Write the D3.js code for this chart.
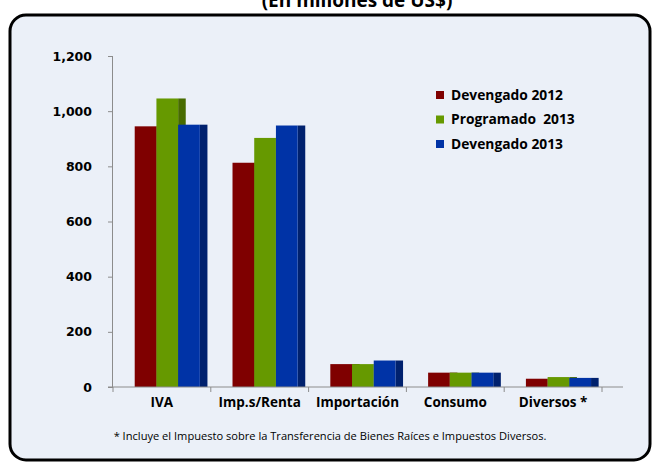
<!DOCTYPE html>
<html>
<head>
<meta charset="utf-8">
<script src="https://cdn.jsdelivr.net/npm/d3@7"></script>
<style>
  body { margin: 0; background: #fff; }
  svg { display: block; }
</style>
</head>
<body>
<svg id="chart" width="653" height="462"></svg>
<script>
// data (millones de US$)
const categories = ['IVA', 'Imp.s/Renta', 'Importación', 'Consumo', 'Diversos *'];
const seriesNames = ['Devengado 2012', 'Programado  2013', 'Devengado 2013'];
const devengado2012 = [945, 813, 83, 52, 30];
const programado2013 = [1046, 903, 83, 52, 36];
const devengado2013 = [951, 948, 96, 52, 33];
const yTicks = [0, 200, 400, 600, 800, 1000, 1200];

const series = [devengado2012, programado2013, devengado2013];
const fronts = ['#7f0000', '#669900', '#0033a6'];
const sides = ['#560000', '#476b00', '#00216e'];

const svg = d3.select('#chart');

// panel with rounded border
svg.append('rect')
    .attr('x', 10).attr('y', 15)
    .attr('width', 640).attr('height', 445)
    .attr('rx', 16).attr('ry', 16)
    .attr('fill', '#ebf0f8')
    .attr('stroke', '#000')
    .attr('stroke-width', 3);

// title, cut off by the top of the picture
svg.append('text')
    .attr('x', 357).attr('y', 7)
    .attr('text-anchor', 'middle')
    .attr('font-family', 'Open Sans, sans-serif')
    .attr('font-weight', 'bold')
    .attr('font-size', '19px')
    .text('(En millones de US$)');

const margin = {left: 113, top: 56, right: 602, bottom: 387};

const x = d3.scaleBand()
    .domain(categories)
    .range([margin.left, margin.right])
    .paddingInner(0).paddingOuter(0);

const y = d3.scaleLinear()
    .domain([0, 1200])
    .range([margin.bottom, margin.top]);

const barW = x.bandwidth() * 0.222;
const depth = barW * 0.35;

// y axis
const yAxis = svg.append('g')
    .attr('transform', `translate(${margin.left},0)`)
    .call(d3.axisLeft(y).tickValues(yTicks).tickSize(5).tickPadding(16)
        .tickFormat(d3.format(',')));
yAxis.select('.domain').attr('stroke', '#8c8c8c').attr('d', `M-0.5,${y(1200)}V${y(0)}`);
yAxis.selectAll('.tick line').attr('stroke', '#8c8c8c');
yAxis.selectAll('text')
    .attr('font-family', 'DejaVu Sans, sans-serif')
    .attr('font-weight', 'bold')
    .attr('font-size', '12.5px')
    .attr('fill', '#000');

// bars: front face plus darker right side
categories.forEach((c, i) => {
    const x0 = x(c) + x.bandwidth() * 0.222;
    series.forEach((s, j) => {
        const bx = x0 + j * barW;
        svg.append('rect')
            .attr('x', bx + barW).attr('y', y(s[i]))
            .attr('width', depth).attr('height', y(0) - y(s[i]))
            .attr('fill', sides[j]);
    });
});
categories.forEach((c, i) => {
    const x0 = x(c) + x.bandwidth() * 0.222;
    series.forEach((s, j) => {
        const bx = x0 + j * barW;
        svg.append('rect')
            .attr('x', bx).attr('y', y(s[i]))
            .attr('width', barW).attr('height', y(0) - y(s[i]))
            .attr('fill', fronts[j]);
    });
});

// x axis
const xAxis = svg.append('g')
    .attr('transform', `translate(0,${margin.bottom})`)
    .call(d3.axisBottom(x).tickSize(0).tickPadding(10));
xAxis.select('.domain').remove();
xAxis.append('line')
    .attr('x1', margin.left - 5).attr('x2', 623)
    .attr('stroke', '#8c8c8c');
xAxis.selectAll('.cat-tick')
    .data(d3.range(categories.length + 1))
    .join('line')
    .attr('class', 'cat-tick')
    .attr('x1', d => margin.left + d * x.bandwidth())
    .attr('x2', d => margin.left + d * x.bandwidth())
    .attr('y1', 0).attr('y2', 5)
    .attr('stroke', '#8c8c8c');
xAxis.selectAll('text')
    .attr('font-family', 'Open Sans, sans-serif')
    .attr('font-weight', 'bold')
    .attr('font-size', '13.5px')
    .attr('fill', '#000');

// legend
const legend = svg.append('g').attr('transform', 'translate(436,95)');
seriesNames.forEach((n, j) => {
    const g = legend.append('g').attr('transform', `translate(0,${j * 24.5})`);
    g.append('rect').attr('x', 0).attr('y', -4).attr('width', 8).attr('height', 8).attr('fill', fronts[j]);
    g.append('text')
        .attr('x', 15).attr('y', 0).attr('dy', '0.35em')
        .attr('font-family', 'Open Sans, sans-serif')
        .attr('font-weight', 'bold')
        .attr('font-size', '13.8px')
        .attr('xml:space', 'preserve')
        .text(n);
});

// footnote
svg.append('text')
    .attr('x', 330).attr('y', 440)
    .attr('text-anchor', 'middle')
    .attr('font-family', 'Open Sans, sans-serif')
    .attr('font-size', '11.1px')
    .text('* Incluye el Impuesto sobre la Transferencia de Bienes Raíces e Impuestos Diversos.');
</script>
</body>
</html>
